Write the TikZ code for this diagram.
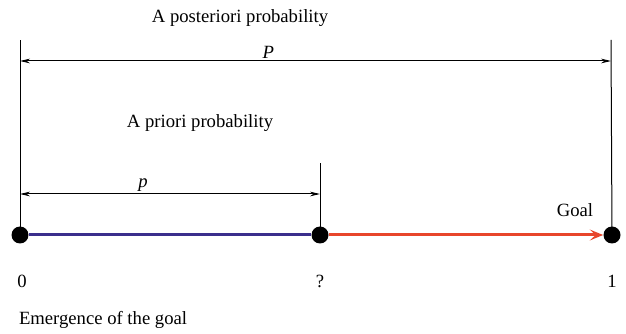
\documentclass[tikz,border=0pt]{standalone}
\usepackage{fontspec}
\setmainfont{Liberation Serif}
\usetikzlibrary{arrows.meta,positioning}

\begin{document}
\begin{tikzpicture}[x=0.6pt, y=-0.6pt,
    dot/.style={circle, fill=black, inner sep=0pt, minimum size=10.2pt},
    dim/.style={line width=0.6pt, {Stealth[length=6pt,width=2.8pt]}-{Stealth[length=6pt,width=2.8pt]}},
    tick/.style={line width=0.6pt},
    lbl/.style={font=\fontsize{11.2}{13}\selectfont, inner sep=1pt}]
        \useasboundingbox (0,0) rectangle (626,334);
        \definecolor{priorblue}{HTML}{3B2E8C}
        \definecolor{goalred}{HTML}{E8462B}

        % Points on the time line
        \node[dot] (start) at (20,235) {};
        \node[dot] (now) at (320,235) {};
        \node[dot] (goal) at (612,235) {};

        % Time line: known part and remaining part
        \draw[line width=1.8pt, priorblue] (start) -- (now);
        \draw[line width=1.8pt, goalred, -{Stealth[length=8pt,width=6.5pt,inset=3.5pt]}] (now) -- (goal);

        % Vertical extension lines
        \coordinate (startTop) at (20,40);
        \coordinate (nowTop) at (320,163);
        \coordinate (goalTop) at (611,40);
        \draw[tick] (start.center) -- (startTop);
        \draw[tick] (now.center) -- (nowTop);
        \draw[tick] (goal.center) -- (goalTop);

        % Dimension line for P
        \coordinate (bigL) at (20,61);
        \coordinate (bigR) at (611,61);
        \draw[dim] (bigL) -- node[pos=0.42, above, lbl] {\textit{P}} (bigR);
        \node[lbl] (post) at (240,18) {A posteriori probability};

        % Dimension line for p
        \coordinate (smallL) at (20,194);
        \coordinate (smallR) at (320,194);
        \draw[dim] (smallL) -- node[pos=0.41, above, lbl] {\textit{p}} (smallR);
        \node[lbl] (prior) at (200,123) {A priori probability};

        % Labels under the points
        \node[lbl] (goalText) at (575,210) {Goal};
        \node[lbl] (zero) at (22,281) {0};
        \node[lbl] (what) at (320,281) {?};
        \node[lbl] (one) at (612,281) {1};
        \node[lbl, anchor=west] (emerge) at (17,320) {Emergence of the goal};
\end{tikzpicture}
\end{document}
